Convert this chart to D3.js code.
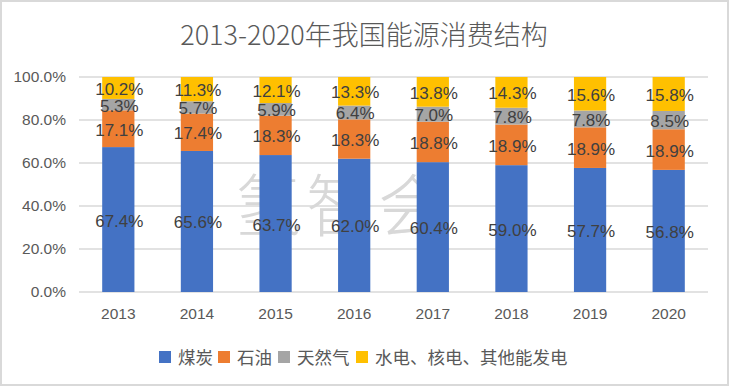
<!DOCTYPE html>
<html lang="zh">
<head>
<meta charset="utf-8">
<title>2013-2020年我国能源消费结构</title>
<script src="https://d3js.org/d3.v7.min.js"></script>
<style>
  body { margin: 0; background: #fff; }
  svg text { font-family: "Liberation Sans", "Noto Sans CJK SC", sans-serif; }
  .cjk { font-family: "Noto Sans CJK SC", sans-serif; }
  .grid line { stroke: #d9d9d9; stroke-width: 1.3px; }
  .axis text { fill: #595959; font-size: 15.5px; }
</style>
</head>
<body>
<div id="chart"></div>
<script>
// data
var years = ["2013", "2014", "2015", "2016", "2017", "2018", "2019", "2020"];
var seriesNames = ["煤炭", "石油", "天然气", "水电、核电、其他能发电"];
var coal  = [67.4, 65.6, 63.7, 62.0, 60.4, 59.0, 57.7, 56.8];
var oil   = [17.1, 17.4, 18.3, 18.3, 18.8, 18.9, 18.9, 18.9];
var gas   = [5.3, 5.7, 5.9, 6.4, 7.0, 7.8, 7.8, 8.5];
var other = [10.2, 11.3, 12.1, 13.3, 13.8, 14.3, 15.6, 15.8];
var yTicks = [0, 20, 40, 60, 80, 100];
var colors = ["#4472C4", "#ED7D31", "#A5A5A5", "#FFC000"];

var w = 731, h = 387;
var svg = d3.select("#chart").append("svg")
    .attr("width", w).attr("height", h);

// chart border
svg.append("rect")
    .attr("x", 1).attr("y", 1)
    .attr("width", w - 4).attr("height", h - 3)
    .attr("fill", "#fff")
    .attr("stroke", "#d9d9d9").attr("stroke-width", 2);

// title
svg.append("text")
    .attr("class", "cjk")
    .attr("x", 364).attr("y", 45)
    .attr("text-anchor", "middle")
    .attr("fill", "#595959")
    .style("font-size", "27px")
    .style("font-weight", "300")
    .text("2013-2020年我国能源消费结构");

var table = years.map(function(y, i) {
    return { year: y, s0: coal[i], s1: oil[i], s2: gas[i], s3: other[i] };
});
var keys = ["s0", "s1", "s2", "s3"];
var stack = d3.stack().keys(keys).offset(d3.stackOffsetExpand);
var layers = stack(table);

var xScale = d3.scaleBand().domain(years).range([79, 708]).paddingInner(0.59).paddingOuter(0.295);
var yScale = d3.scaleLinear().domain([0, 1]).range([292, 77]);

// gridlines
svg.append("g").attr("class", "grid")
    .selectAll("line").data(yTicks).enter().append("line")
    .attr("x1", 79).attr("x2", 708)
    .attr("y1", function(d) { return yScale(d / 100); })
    .attr("y2", function(d) { return yScale(d / 100); });

// watermark (behind the bars)
svg.append("text")
    .attr("x", 342).attr("y", 231)
    .attr("text-anchor", "middle")
    .attr("fill", "#d8d8d8")
    .style("font-family", "'Noto Sans CJK SC', sans-serif")
    .style("font-weight", "200")
    .style("font-size", "68px")
    .style("letter-spacing", "4px")
    .text("氢智会");

// bars
var groups = svg.selectAll("g.layer").data(layers).enter()
    .append("g").attr("class", "layer")
    .attr("fill", function(d, i) { return colors[i]; });

groups.selectAll("rect").data(function(d) { return d; }).enter()
    .append("rect")
    .attr("x", function(d) { return xScale(d.data.year); })
    .attr("width", xScale.bandwidth())
    .attr("y", function(d) { return yScale(d[1]); })
    .attr("height", function(d) { return yScale(d[0]) - yScale(d[1]); });

// data labels
layers.forEach(function(layer, li) {
    svg.append("g").selectAll("text").data(layer).enter()
        .append("text")
        .attr("x", function(d) { return xScale(d.data.year) + xScale.bandwidth() / 2 + 1; })
        .attr("y", function(d) { return (yScale(d[0]) + yScale(d[1])) / 2 + 7; })
        .attr("text-anchor", "middle")
        .attr("fill", "#404040")
        .style("font-size", "17px")
        .text(function(d) { return d.data[keys[li]].toFixed(1) + "%"; });
});

// axes
var yAxis = d3.axisLeft(yScale).tickValues(yTicks.map(function(d) { return d / 100; }))
    .tickFormat(function(d) { return (d * 100).toFixed(1) + "%"; })
    .tickSize(0).tickPadding(0);
svg.append("g").attr("class", "axis")
    .attr("transform", "translate(66,0)")
    .call(yAxis)
    .call(function(g) { g.select(".domain").remove(); });

var xAxis = d3.axisBottom(xScale).tickSize(0).tickPadding(16);
svg.append("g").attr("class", "axis")
    .attr("transform", "translate(0,292)")
    .call(xAxis)
    .call(function(g) { g.select(".domain").remove(); });

// legend
var legendX = [157, 216, 276, 354];
var legend = svg.append("g").selectAll("g").data(seriesNames).enter()
    .append("g")
    .attr("transform", function(d, i) { return "translate(" + legendX[i] + ",357)"; });
legend.append("rect")
    .attr("x", 2).attr("y", -6)
    .attr("width", 12).attr("height", 12)
    .attr("fill", function(d, i) { return colors[i]; });
legend.append("text")
    .attr("class", "cjk")
    .attr("x", 21).attr("y", 6.5)
    .attr("fill", "#595959")
    .style("font-size", "17.5px")
    .text(function(d) { return d; });
</script>
</body>
</html>
